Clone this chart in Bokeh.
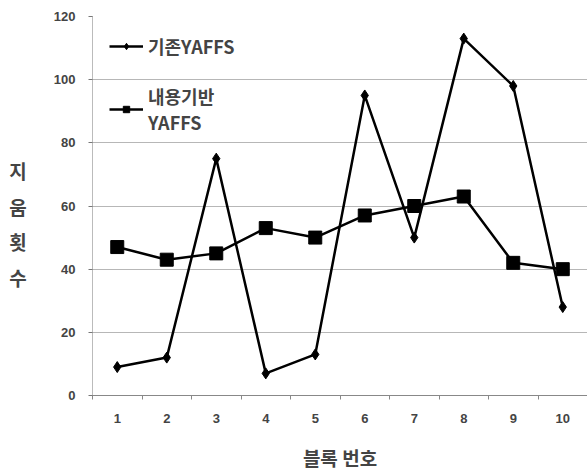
from bokeh.plotting import figure
from bokeh.models import (FixedTicker, Range1d, Legend, LegendItem)
from bokeh.embed import file_html
from bokeh.resources import INLINE

# Erase counts per block
blocks = [1, 2, 3, 4, 5, 6, 7, 8, 9, 10]
block_labels = ["1", "2", "3", "4", "5", "6", "7", "8", "9", "10"]
yaffs_orig = [9, 12, 75, 7, 13, 95, 50, 113, 98, 28]
yaffs_content = [47, 43, 45, 53, 50, 57, 60, 63, 42, 40]
y_ticks = [0, 20, 40, 60, 80, 100, 120]
series_names = ["기존YAFFS", "내용기반\nYAFFS"]

KR = "Noto Sans CJK KR"

p = figure(width=587, height=473, output_backend="svg", toolbar_location=None,
           x_range=Range1d(0.5, 10.5), y_range=Range1d(0, 120),
           min_border_left=92, min_border_right=0, min_border_top=16,
           min_border_bottom=78)
p.outline_line_color = None
p.background_fill_color = "white"
p.border_fill_color = "white"

# horizontal dotted grid only
p.xgrid.grid_line_color = None
p.ygrid.grid_line_color = "#6f6f6f"
p.ygrid.grid_line_dash = "1 1"
p.ygrid.grid_line_width = 1

# y axis, title stacked one syllable per line
p.yaxis.ticker = FixedTicker(ticks=y_ticks)
p.yaxis.axis_line_color = "#777777"
p.yaxis.axis_line_dash = "1 1"
p.yaxis.major_tick_line_color = "#777777"
p.yaxis.major_tick_out = 4
p.yaxis.major_tick_in = 0
p.yaxis.minor_tick_line_color = None
p.yaxis.major_label_text_font = "Liberation Sans"
p.yaxis.major_label_text_font_style = "bold"
p.yaxis.major_label_text_font_size = "13px"
p.yaxis.major_label_standoff = 13
p.yaxis.axis_label = "\n지\n움\n횟\n수"
p.yaxis.axis_label_orientation = "horizontal"
p.yaxis.axis_label_text_font = KR
p.yaxis.axis_label_text_font_style = "bold"
p.yaxis.axis_label_text_font_size = "19px"
p.yaxis.axis_label_text_line_height = 1.32
p.yaxis.axis_label_standoff = 24

# x axis: labels at block centres, ticks at block boundaries
p.xaxis.ticker = FixedTicker(ticks=blocks,
                             minor_ticks=[b - 0.5 for b in blocks] + [blocks[-1] + 0.5])
p.xaxis.major_label_overrides = {b: s for b, s in zip(blocks, block_labels)}
p.xaxis.axis_line_color = "#888888"
p.xaxis.major_tick_out = 0
p.xaxis.major_tick_in = 0
p.xaxis.minor_tick_out = 4
p.xaxis.minor_tick_in = 0
p.xaxis.minor_tick_line_color = "#888888"
p.xaxis.major_label_text_font = "Liberation Sans"
p.xaxis.major_label_text_font_style = "bold"
p.xaxis.major_label_text_font_size = "13px"
p.xaxis.major_label_standoff = 14
p.xaxis.axis_label = "블록 번호"
p.xaxis.axis_label_text_font = KR
p.xaxis.axis_label_text_font_style = "bold"
p.xaxis.axis_label_text_font_size = "19px"
p.xaxis.axis_label_standoff = 18

# series
l1 = p.line(blocks, yaffs_orig, line_color="black", line_width=2.5)
m1 = p.scatter(blocks, yaffs_orig, marker="diamond", size=11,
               fill_color="black", line_color="black")
l2 = p.line(blocks, yaffs_content, line_color="black", line_width=2.5)
m2 = p.scatter(blocks, yaffs_content, marker="square", size=13,
               fill_color="black", line_color="black")

legend = Legend(items=[LegendItem(label=series_names[0], renderers=[l1, m1]),
                       LegendItem(label=series_names[1], renderers=[l2, m2])],
                location="top_left", margin=17, padding=20, spacing=24,
                glyph_width=34, glyph_height=16, label_standoff=5,
                label_text_font=KR, label_text_font_style="bold",
                label_text_font_size="18px", label_text_line_height=1.35,
                border_line_color=None, background_fill_alpha=0)
p.add_layout(legend, "center")

open("out.html", "w").write(file_html(p, INLINE))
